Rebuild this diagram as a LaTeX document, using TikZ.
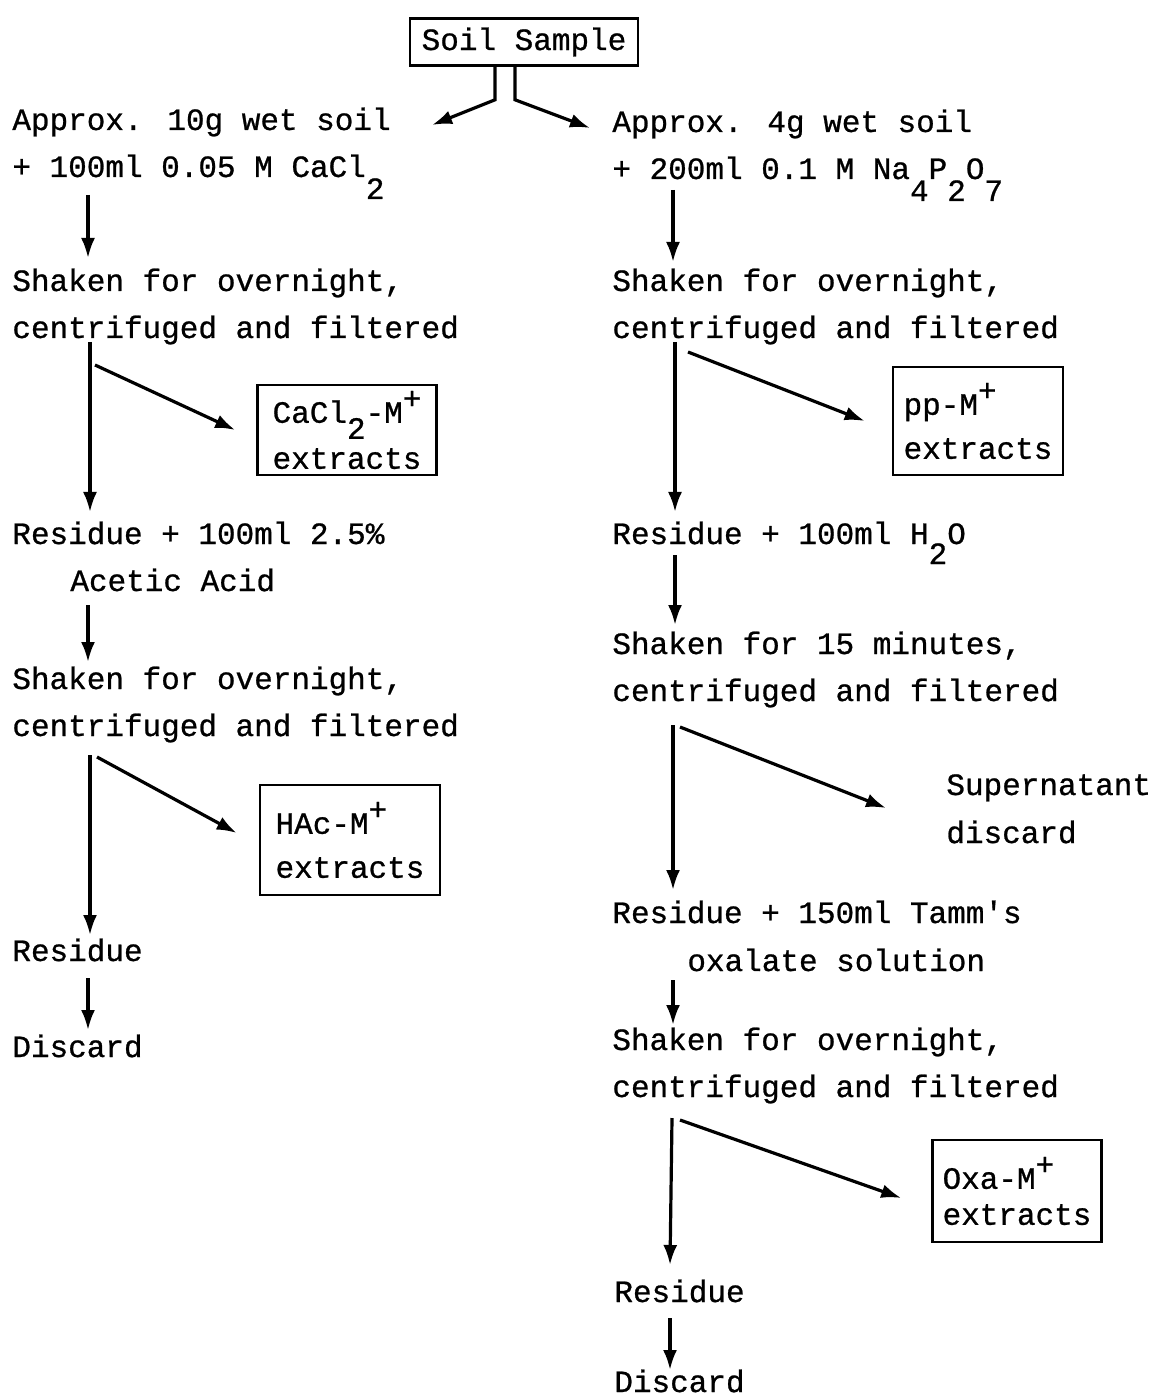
\documentclass[tikz,border=0pt]{standalone}
\usepackage{fontspec}
\newfontfamily\typewr[FakeBold=0.8]{Liberation Mono}
\usepackage{tikz}
\usetikzlibrary{positioning,calc,arrows.meta}
\newcommand{\lo}[2][-11pt]{\raisebox{#1}{#2}}
\newcommand{\hi}[1]{\raisebox{7pt}{#1}}

\begin{document}
\begin{tikzpicture}[
    x=0.5pt, y=-0.5pt,
    txt/.style={anchor=base west,inner sep=0pt,font=\typewr\fontsize{15.5}{23}\selectfont},
    extr/.style={draw,line width=1.3pt,align=left,inner sep=0pt,font=\typewr\fontsize{15.5}{22}\selectfont},
    arrow/.style={line width=1.6pt,-{Latex[length=10pt,width=7pt]}}
]
\useasboundingbox (0,0) rectangle (1154,1400);

\node[extr,minimum width=114pt,minimum height=23.5pt] (soil) at (524,42) {Soil Sample};

\node[txt] (wetA) at (12,130) {Approx. 10g wet soil};
\node[txt] (caclA) at (12,177) {+ 100ml 0.05 M CaCl\lo{2}};
\node[txt] (shakeA) at (12,291) {Shaken for overnight,};
\node[txt] (centA) at (12,338) {centrifuged and filtered};
\node[txt] (resA) at (12,544) {Residue + 100ml 2.5\%};
\node[txt] (aceA) at (70,591) {Acetic Acid};
\node[txt] (shakeB) at (12,689) {Shaken for overnight,};
\node[txt] (centB) at (12,736) {centrifuged and filtered};
\node[txt] (residA) at (12,961) {Residue};
\node[txt] (discA) at (12,1057) {Discard};

\node[extr,minimum width=89.5pt,minimum height=45pt] (caclbox) at (347,430) {CaCl\lo[-8pt]{2}-M\hi{+}\\[1pt]extracts};
\node[extr,minimum width=90pt,minimum height=55pt] (hacbox) at (350,840) {HAc-M\hi{+}\\extracts};

\node[txt] (wetB) at (612,132) {Approx. 4g wet soil};
\node[txt] (napp) at (612,179) {+ 200ml 0.1 M Na\lo{4}P\lo{2}O\lo{7}};
\node[txt] (shakeC) at (612,291) {Shaken for overnight,};
\node[txt] (centC) at (612,338) {centrifuged and filtered};
\node[txt] (resC) at (612,544) {Residue + 100ml H\lo[-10pt]{2}O};
\node[txt] (shakeD) at (612,654) {Shaken for 15 minutes,};
\node[txt] (centD) at (612,701) {centrifuged and filtered};
\node[txt] (super) at (946,795) {Supernatant};
\node[txt] (disc) at (946,843) {discard};
\node[txt] (resD) at (612,923) {Residue + 150ml Tamm\textquotesingle s};
\node[txt] (oxal) at (687,971) {oxalate solution};
\node[txt] (shakeE) at (612,1050) {Shaken for overnight,};
\node[txt] (centE) at (612,1097) {centrifuged and filtered};
\node[txt] (residB) at (614,1302) {Residue};
\node[txt] (discB) at (614,1392) {Discard};

\node[extr,minimum width=85pt,minimum height=54pt] (ppbox) at (978,421) {pp-M\hi{+}\\extracts};
\node[extr,minimum width=84.5pt,minimum height=51pt] (oxabox) at (1017,1191) {Oxa-M\hi{+}\\[-4pt]extracts};

\draw[arrow] ($(soil.south)+(-29,0)$) -- ++(0,33) -- ($(wetA.base east)+(41,-5)$);
\draw[arrow] ($(soil.south)+(-9,0)$) -- ++(0,33) -- ($(wetB.base west)+(-22,-4)$);

\draw[arrow] ($(caclA.base west)+(76,18)$) -- ($(shakeA.base west)+(76,-33)$);
\draw[arrow] ($(centA.base west)+(78,4)$) -- ($(resA.base west)+(78,-32)$);
\draw[arrow] ($(centA.base west)+(83,27)$) -- ($(caclbox.west)+(-21,0)$);
\draw[arrow] ($(aceA.base west)+(18,14)$) -- ($(shakeB.base west)+(76,-27)$);
\draw[arrow] ($(centB.base west)+(78,19)$) -- ($(residA.base west)+(78,-26)$);
\draw[arrow] ($(centB.base west)+(85,21)$) -- ($(hacbox.west)+(-22,-7)$);
\draw[arrow] ($(residA.base west)+(76,17)$) -- ($(discA.base west)+(76,-27)$);

\draw[arrow] ($(napp.base west)+(61,11)$) -- ($(shakeC.base west)+(61,-29)$);
\draw[arrow] ($(centC.base west)+(63,4)$) -- ($(resC.base west)+(63,-32)$);
\draw[arrow] ($(centC.base west)+(76,14)$) -- ($(ppbox.west)+(-27,0)$);
\draw[arrow] ($(resC.base west)+(63,11)$) -- ($(shakeD.base west)+(63,-29)$);
\draw[arrow] ($(centD.base west)+(61,24)$) -- ($(resD.base west)+(61,-33)$);
\draw[arrow] ($(centD.base west)+(68,26)$) -- ($(super.base west)+(-60,13)$);
\draw[arrow] ($(oxal.base west)+(-14,9)$) -- ($(shakeE.base west)+(61,-25)$);
\draw[arrow] ($(centE.base west)+(60,21)$) -- ($(residB.base west)+(56,-37)$);
\draw[arrow] ($(centE.base west)+(68,23)$) -- ($(oxabox.west)+(-30,7)$);
\draw[arrow] ($(residB.base west)+(56,16)$) -- ($(discB.base west)+(56,-22)$);
\end{tikzpicture}
\end{document}
